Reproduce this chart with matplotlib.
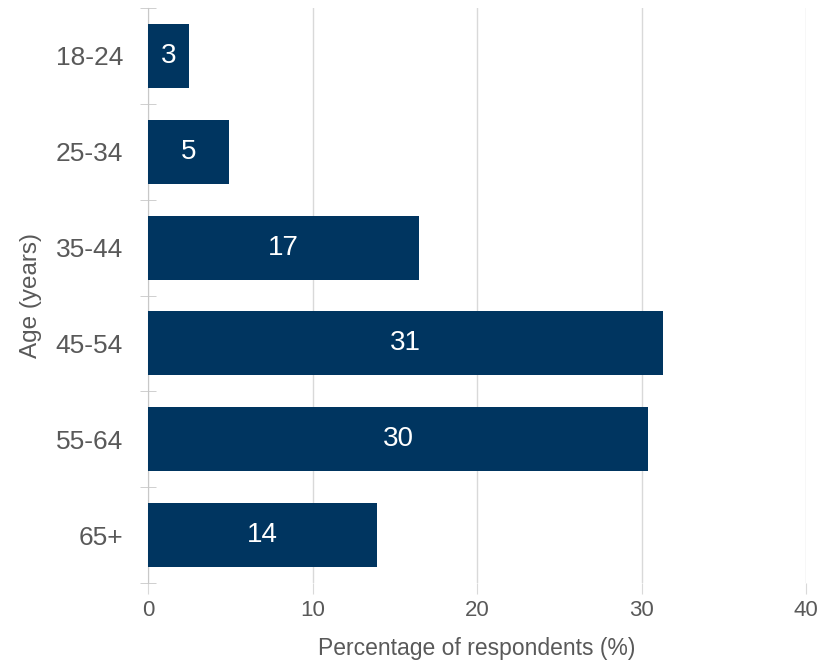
import numpy as np
import matplotlib.pyplot as plt

plt.rcParams['font.family'] = ['Liberation Sans', 'DejaVu Sans']

ages = ['18-24', '25-34', '35-44', '45-54', '55-64', '65+']
share = [2.5, 4.9, 16.5, 31.3, 30.4, 13.9]

bar_color = '#003560'
text_color = '#595959'
grid_color = '#d9d9d9'

fig = plt.figure(figsize=(8.2, 6.65), dpi=100)
ax = fig.add_axes([148 / 820, 1 - 583 / 665, 658 / 820, 575 / 665])

y = np.arange(len(ages))
bars = ax.barh(y, share, height=0.667, color=bar_color, zorder=3)

for b, v in zip(bars, share):
    ax.text(b.get_width() / 2, b.get_y() + b.get_height() / 2,
            str(int(np.floor(v + 0.5))), ha='center', va='center',
            color='white', fontsize=20, zorder=4)

ax.set_xlim(0, 40)
ax.set_ylim(len(ages) - 0.5, -0.5)
ax.set_xticks([0, 10, 20, 30, 40])
ax.set_yticks(y)
ax.set_yticklabels(ages)
ax.set_yticks(np.arange(-0.5, len(ages)), minor=True)

ax.grid(axis='x', color=grid_color, linewidth=1, zorder=0)
for s in ['top', 'right', 'bottom']:
    ax.spines[s].set_visible(False)
ax.spines['left'].set_color('#c8c8c8')

ax.tick_params(axis='y', which='major', length=0, pad=18,
               labelsize=19, labelcolor=text_color)
ax.tick_params(axis='y', which='minor', direction='inout', length=12,
               color='#c8c8c8')
ax.tick_params(axis='x', length=8, color=grid_color, pad=4,
               labelsize=16, labelcolor=text_color)

ax.set_xlabel('Percentage of respondents (%)', fontsize=16.5,
              color=text_color, labelpad=12)
ax.set_ylabel('Age (years)', fontsize=17.5, color=text_color, labelpad=10)

fig.savefig('out.png', dpi=100)
